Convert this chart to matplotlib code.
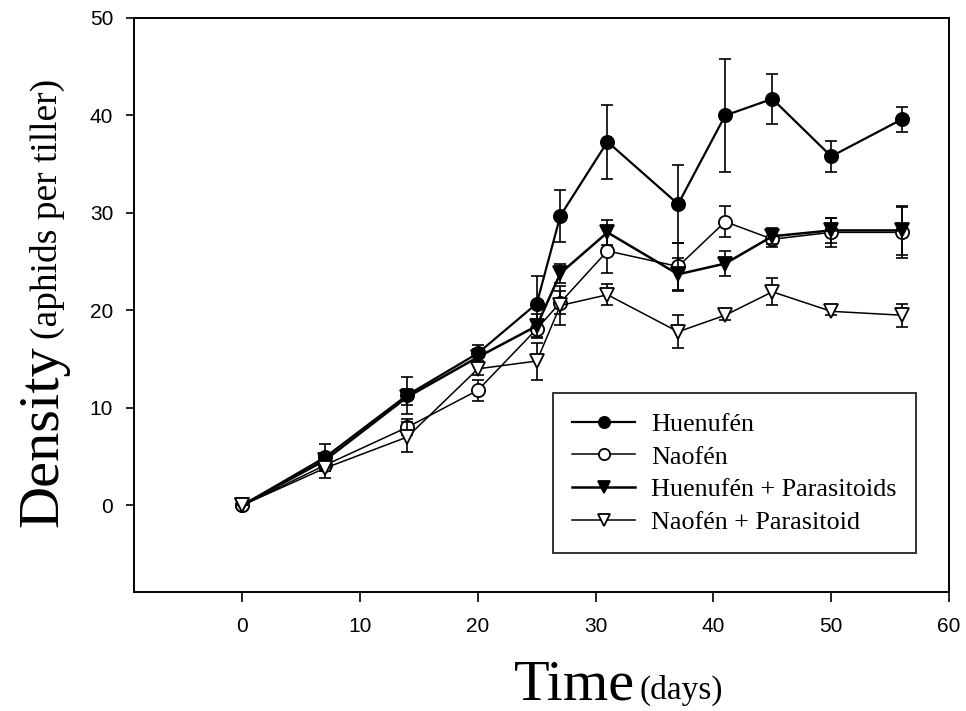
import matplotlib
matplotlib.use('Agg')
import matplotlib.pyplot as plt

# ------------------------------------------------------------
# data (mean +/- SE, aphids per tiller)
# ------------------------------------------------------------
days = [0, 7, 14, 20, 25, 27, 31, 37, 41, 45, 50, 56]

huenufen = [0, 4.9, 11.3, 15.6, 20.7, 29.7, 37.3, 30.9, 40.0, 41.7, 35.8, 39.6]
huenufen_se = [0, 1.4, 1.9, 0.8, 2.8, 2.7, 3.8, 4.0, 5.8, 2.6, 1.6, 1.3]

naofen = [0, 4.1, 8.0, 11.8, 18.1, 20.8, 26.1, 24.5, 29.1, 27.3, 28.0, 28.0]
naofen_se = [0, 0.6, 0.8, 1.1, 0.8, 1.2, 2.3, 2.4, 1.6, 0.8, 1.5, 2.6]

huen_par = [0, 4.6, 11.1, 15.2, 18.4, 23.8, 28.0, 23.7, 24.8, 27.6, 28.2, 28.2]
huen_par_se = [0, 0.8, 0.8, 0.8, 1.2, 1.0, 1.3, 1.7, 1.3, 0.8, 1.3, 2.5]

nao_par = [0, 3.8, 7.0, 14.0, 14.8, 20.5, 21.6, 17.8, 19.5, 21.9, 19.9, 19.5]
nao_par_se = [0, 1.0, 1.5, 0.6, 1.9, 2.0, 1.1, 1.7, 0.5, 1.4, 0.4, 1.2]

labels = ['Huenufén', 'Naofén', 'Huenufén + Parasitoids', 'Naofén + Parasitoid']

# ------------------------------------------------------------
# figure
# ------------------------------------------------------------
fig = plt.figure(figsize=(9.66, 7.11), dpi=100)
ax = fig.add_axes([0.1387, 0.1674, 0.8437, 0.8073])

series = [
    (huenufen, huenufen_se, 'o', 'black', 1.6),
    (naofen, naofen_se, 'o', 'white', 1.1),
    (huen_par, huen_par_se, 'v', 'black', 1.8),
    (nao_par, nao_par_se, 'v', 'white', 1.1),
]

handles = []
for k, (y, se, m, fc, lw) in enumerate(series):
    ax.errorbar(days, y, yerr=se, fmt='none', ecolor='black',
                elinewidth=1.2, capsize=4.5, capthick=1.2, zorder=2 + k)
    h, = ax.plot(days, y, '-', color='black', lw=lw, marker=m,
                 markersize=9.5, markerfacecolor=fc, markeredgecolor='black',
                 markeredgewidth=1.3, zorder=3 + k, label=labels[k])
    handles.append(h)

ax.set_xlim(-9.2, 60)
ax.set_ylim(-8.9, 50)
ax.set_xticks(range(0, 61, 10))
ax.set_yticks(range(0, 51, 10))

for s in ax.spines.values():
    s.set_linewidth(1.4)
ax.tick_params(axis='x', direction='out', length=7, width=1.2, pad=11,
               labelsize=15)
ax.tick_params(axis='y', direction='out', length=6, width=1.2, pad=9,
               labelsize=15)
for t in ax.get_xticklabels() + ax.get_yticklabels():
    t.set_family('Liberation Sans')

leg = ax.legend(handles=handles, loc='upper left',
                bbox_to_anchor=(0.514, 0.3467), frameon=True, fancybox=False,
                prop={'family': 'Liberation Serif', 'size': 18.8},
                handlelength=2.4, handletextpad=0.6, labelspacing=0.36,
                borderpad=0.75, markerscale=0.85, borderaxespad=0)
leg.get_frame().set_edgecolor('black')
leg.get_frame().set_linewidth(1.4)

# axis titles: big word + smaller unit in parentheses
serif = 'Liberation Serif'
t1 = fig.text(57 / 966, 1 - 527 / 711, 'Density', rotation=90,
              rotation_mode='anchor', ha='left', va='baseline',
              fontsize=42, family=serif)
t2 = fig.text(514 / 966, 12 / 711, 'Time', ha='left', va='baseline',
              fontsize=42, family=serif)
fig.canvas.draw()
inv = fig.transFigure.inverted()

bb = t1.get_window_extent()
x0, y0 = inv.transform((bb.x1, bb.y1 + 6))
fig.text(57 / 966, y0, '(aphids per tiller)', rotation=90,
         rotation_mode='anchor', ha='left', va='baseline',
         fontsize=27, family=serif)

bb = t2.get_window_extent()
x0, y0 = inv.transform((bb.x1 + 4, bb.y0))
fig.text(x0, 12 / 711, '(days)', ha='left', va='baseline',
         fontsize=24, family=serif)

fig.savefig('out.png', dpi=100)
